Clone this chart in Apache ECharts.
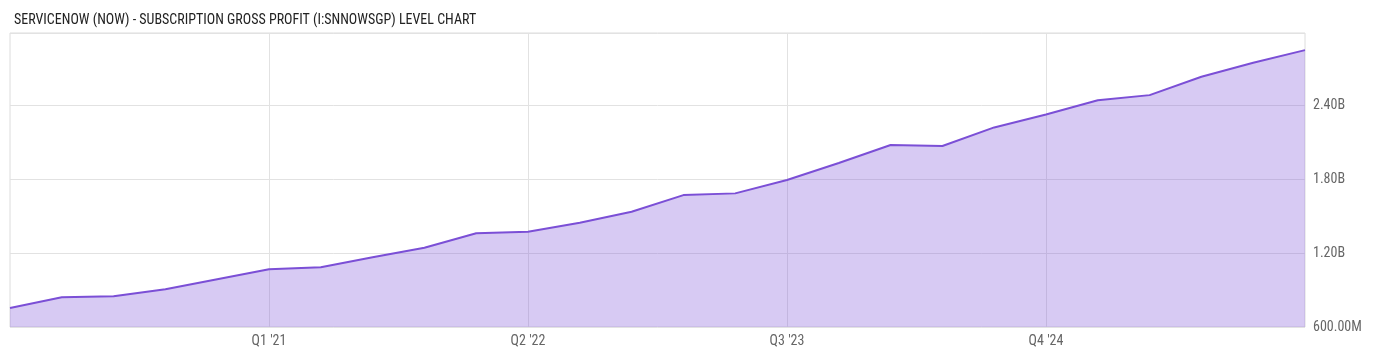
<!DOCTYPE html>
<html>
<head>
<meta charset="utf-8">
<script src="https://cdn.jsdelivr.net/npm/echarts@6/dist/echarts.min.js"></script>
<style>
  html, body { margin: 0; padding: 0; background: #fff; }
  #chart { width: 1400px; height: 357px; }
</style>
</head>
<body>
<div id="chart"></div>
<script>
// quarters, Q4 '19 .. Q1 '26
var quarters = [
    "Q4 '19", "Q1 '20", "Q2 '20", "Q3 '20", "Q4 '20",
    "Q1 '21", "Q2 '21", "Q3 '21", "Q4 '21",
    "Q1 '22", "Q2 '22", "Q3 '22", "Q4 '22",
    "Q1 '23", "Q2 '23", "Q3 '23", "Q4 '23",
    "Q1 '24", "Q2 '24", "Q3 '24", "Q4 '24",
    "Q1 '25", "Q2 '25", "Q3 '25", "Q4 '25", "Q1 '26"
];

// subscription gross profit, USD
var grossProfit = [
    754e6, 841e6, 849e6, 906e6, 987e6,
    1068e6, 1084e6, 1166e6, 1243e6,
    1360e6, 1373e6, 1446e6, 1535e6,
    1670e6, 1684e6, 1792e6, 1930e6,
    2076e6, 2068e6, 2219e6, 2324e6,
    2440e6, 2481e6, 2630e6, 2743e6, 2846e6
];

var yTicks = [600e6, 1200e6, 1800e6, 2400e6];

var FONT = "'Roboto Condensed', 'Liberation Sans Narrow', 'DejaVu Sans Condensed', Roboto, sans-serif";

var myChart = echarts.init(document.getElementById('chart'));

function fmtVal(v) {
    if (v >= 1e9) return (v / 1e9).toFixed(2) + 'B';
    return (v / 1e6).toFixed(2) + 'M';
}

// 每五个季度显示一个标签（首尾除外）
function everyFifth(idx) {
    return idx > 0 && idx < quarters.length - 1 && idx % 5 === 0;
}

var option = {
    animation: false,
    textStyle: { fontFamily: FONT },
    title: {
        text: 'SERVICENOW (NOW) - SUBSCRIPTION GROSS PROFIT (I:SNNOWSGP) LEVEL CHART',
        left: 9,
        top: 8,
        textStyle: {
            fontSize: 14,
            fontWeight: 'normal',
            color: '#222',
            fontFamily: FONT
        }
    },
    grid: {
        left: 10,
        right: 95,
        top: 33,
        bottom: 30,
        show: true,
        borderColor: '#dcdcdc',
        borderWidth: 1
    },
    xAxis: {
        type: 'category',
        data: quarters,
        boundaryGap: false,
        axisLine: { show: false },
        axisTick: { show: false },
        axisLabel: {
            interval: everyFifth,
            color: '#666',
            fontSize: 14,
            fontFamily: FONT,
            margin: 7
        },
        splitLine: {
            show: true,
            interval: everyFifth,
            lineStyle: { color: '#e2e2e2', width: 1 }
        }
    },
    yAxis: {
        type: 'value',
        position: 'right',
        min: 600e6,
        max: 2985e6,
        interval: 600e6,
        axisLine: { show: false },
        axisTick: { show: false },
        axisLabel: {
            showMaxLabel: false,
            color: '#666',
            fontSize: 14,
            fontFamily: FONT,
            margin: 8,
            formatter: function (v) {
                return yTicks.indexOf(v) >= 0 ? fmtVal(v) : '';
            }
        },
        splitLine: {
            lineStyle: { color: '#e2e2e2', width: 1 }
        }
    },
    series: [{
        type: 'line',
        data: grossProfit,
        symbol: 'none',
        lineStyle: { color: '#7b4fd6', width: 2 },
        areaStyle: { color: '#7b4fd6', opacity: 0.3, origin: 'start' },
        z: 1
    }]
};

myChart.setOption(option);
</script>
</body>
</html>
